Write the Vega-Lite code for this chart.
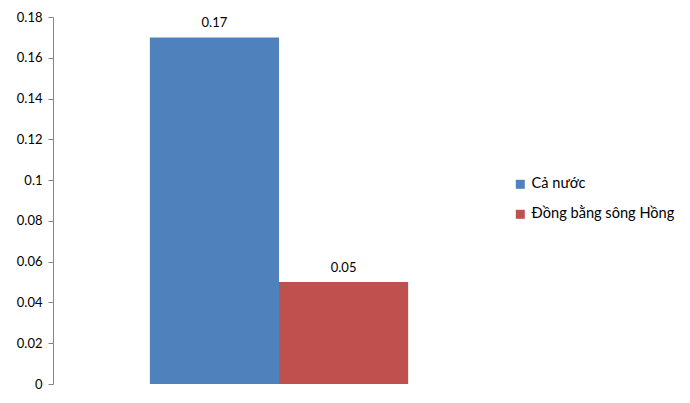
{
  "$schema": "https://vega.github.io/schema/vega-lite/v6.json",
  "autosize": "none",
  "width": 452,
  "height": 367,
  "padding": {"left": 53, "top": 17, "right": 185, "bottom": 19},
  "background": "white",
  "data": {"values": [
    {"series": "Cả nước", "value": 0.17},
    {"series": "Đồng bằng sông Hồng", "value": 0.05}
  ]},
  "encoding": {
    "x": {"field": "series", "type": "nominal", "sort": null,
      "scale": {"paddingInner": 0, "paddingOuter": 0.75},
      "axis": null},
    "y": {"field": "value", "type": "quantitative",
      "scale": {"domain": [0, 0.18], "nice": false},
      "axis": {"values": [0, 0.02, 0.04, 0.06, 0.08, 0.1, 0.12, 0.14, 0.16, 0.18],
        "format": "~g", "title": null, "grid": false,
        "domainColor": "#868686", "tickColor": "#868686", "tickSize": 5,
        "labelFont": "Lato", "labelFontSize": 13, "labelColor": "#000000", "labelPadding": 6}}
  },
  "layer": [
    {"mark": {"type": "bar"},
     "encoding": {
       "color": {"field": "series", "type": "nominal", "sort": null,
         "scale": {"range": ["#4F81BD", "#C0504D"]},
         "legend": {"title": null, "orient": "none", "legendX": 460, "legendY": 160,
           "symbolType": "square", "symbolSize": 81, "symbolStrokeWidth": 0,
           "labelFont": "Lato", "labelFontSize": 14.6, "labelColor": "#000000",
           "labelOffset": 4, "rowPadding": 15}}
     }},
    {"mark": {"type": "text", "dy": -14, "font": "Lato", "fontSize": 13, "color": "#000000"},
     "encoding": {"text": {"field": "value", "type": "quantitative", "format": ".2f"}}}
  ],
  "config": {"view": {"stroke": null}}
}
